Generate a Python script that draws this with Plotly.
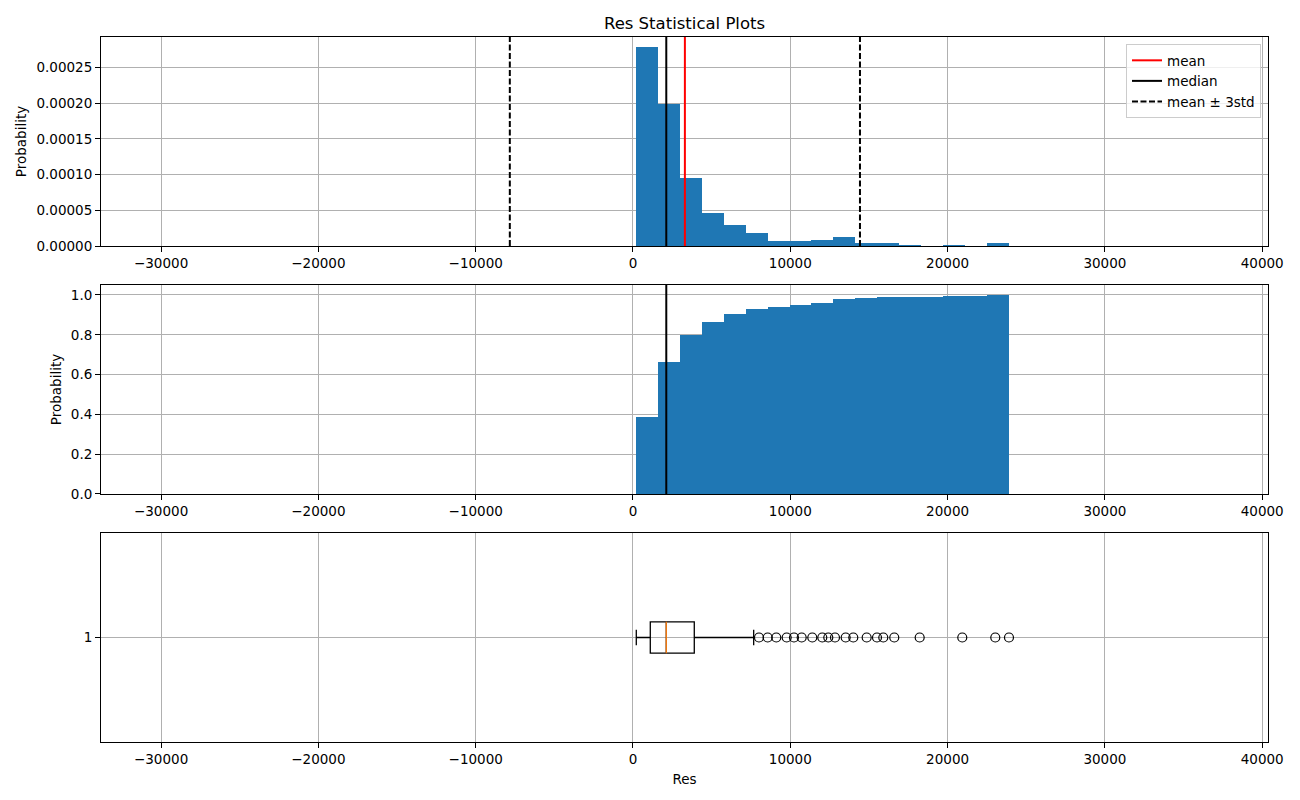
import numpy as np
import plotly.graph_objects as go
from plotly.subplots import make_subplots

# ---------------- data ----------------
bin_start = 200.0
bin_width = 1393.0
bin_counts = [197, 141, 67, 33, 21, 13, 5, 5, 6, 9, 3, 3, 1, 0, 1, 0, 3]

res_mean = 3300.0
res_std = 3710.0
res_median = 2117.0

box_q1 = 1100.0
box_q3 = 3897.0
box_low = 210.0
box_high = 7673.0
outliers = [8010, 8563, 9110, 9771, 10235, 10725, 11399, 12034, 12416, 12842,
            13522, 14005, 14857, 15512, 15912, 16611, 18226, 20934, 23032, 23903]

x_ticks = [-30000, -20000, -10000, 0, 10000, 20000, 30000, 40000]
x_range = [-33820, 40370]
top_ticks = [0.0, 0.00005, 0.0001, 0.00015, 0.0002, 0.00025]
mid_ticks = [0.0, 0.2, 0.4, 0.6, 0.8, 1.0]

# ---------------- derived ----------------
counts = np.array(bin_counts, dtype=float)
n_total = counts.sum()
edges = bin_start + bin_width * np.arange(len(counts) + 1)
centers = (edges[:-1] + edges[1:]) / 2
density = counts / (n_total * bin_width)
cumulative = np.cumsum(counts) / n_total
top_max = density.max() * 1.05
mid_max = cumulative.max() * 1.05

BLUE = "#1f77b4"
GRID = "#b0b0b0"
FONT = "DejaVu Sans"
FS = 13.5

fig = make_subplots(rows=3, cols=1)

# Top histogram (density)
fig.add_trace(go.Bar(x=centers, y=density, width=bin_width, marker=dict(color=BLUE, line=dict(width=0)),
                     showlegend=False, hoverinfo="skip"), row=1, col=1)
fig.add_trace(go.Scatter(x=[res_mean, res_mean], y=[0, top_max], mode="lines",
                         line=dict(color="red", width=2), name="mean"), row=1, col=1)
fig.add_trace(go.Scatter(x=[res_median, res_median], y=[0, top_max], mode="lines",
                         line=dict(color="black", width=2), name="median"), row=1, col=1)
lo = res_mean - 3 * res_std
hi = res_mean + 3 * res_std
fig.add_trace(go.Scatter(x=[lo, lo, None, hi, hi], y=[0, top_max, None, 0, top_max], mode="lines",
                         line=dict(color="black", width=2, dash="6px,2.5px"), name="mean \u00b1 3std"),
              row=1, col=1)

# Middle cumulative histogram
fig.add_trace(go.Bar(x=centers, y=cumulative, width=bin_width, marker=dict(color=BLUE, line=dict(width=0)),
                     showlegend=False, hoverinfo="skip"), row=2, col=1)
fig.add_trace(go.Scatter(x=[res_median, res_median], y=[0, mid_max], mode="lines",
                         line=dict(color="black", width=2), showlegend=False), row=2, col=1)

# Bottom box plot
fig.add_trace(go.Box(y=[1], q1=[box_q1], median=[res_median], q3=[box_q3],
                     lowerfence=[box_low], upperfence=[box_high], orientation="h",
                     width=0.15, whiskerwidth=0.5, boxpoints=False,
                     line=dict(color="black", width=1.3), fillcolor="rgba(255,255,255,0)",
                     showlegend=False, hoverinfo="skip"), row=3, col=1)
fig.add_trace(go.Scatter(x=[res_median, res_median], y=[0.925, 1.075], mode="lines",
                         line=dict(color="#ff7f0e", width=1.3), showlegend=False), row=3, col=1)
fig.add_trace(go.Scatter(x=outliers, y=[1] * len(outliers), mode="markers",
                         marker=dict(symbol="circle-open", size=9, color="black", line=dict(width=1.2)),
                         showlegend=False), row=3, col=1)

axis_common = dict(showline=True, mirror=True, linecolor="black", linewidth=1,
                   ticks="outside", ticklen=5, tickcolor="black", showgrid=True,
                   gridcolor=GRID, gridwidth=0.8, zeroline=False,
                   tickfont=dict(family=FONT, size=FS, color="black"))

domains = [[0.7035, 1.0], [0.3518, 0.6482], [0.0, 0.2965]]
for i in range(3):
    xa = "xaxis" if i == 0 else f"xaxis{i+1}"
    ya = "yaxis" if i == 0 else f"yaxis{i+1}"
    fig.layout[xa].update(range=x_range, tickvals=x_ticks, tickformat="d", domain=[0, 1], **axis_common)
    fig.layout[ya].update(domain=domains[i], **axis_common)

fig.layout.yaxis.update(range=[0, top_max], tickvals=top_ticks, tickformat=".5f",
                        title=dict(text="Probability", font=dict(family=FONT, size=FS, color="black"), standoff=6))
fig.layout.yaxis2.update(range=[0, mid_max], tickvals=mid_ticks, tickformat=".1f",
                         title=dict(text="Probability", font=dict(family=FONT, size=FS, color="black"), standoff=6))
fig.layout.yaxis3.update(range=[0.5, 1.5], tickvals=[1], ticktext=["1"])
fig.layout.xaxis3.update(title=dict(text="Res", font=dict(family=FONT, size=FS, color="black"), standoff=8))

fig.update_layout(
    width=1300, height=800,
    margin=dict(l=101, r=32, t=37, b=58, autoexpand=False),
    paper_bgcolor="white", plot_bgcolor="white",
    font=dict(family=FONT, size=FS, color="black"),
    title=dict(text="Res Statistical Plots", x=0.5, xref="paper", xanchor="center",
               y=1 - 23 / 800, yref="container", yanchor="middle",
               font=dict(family=FONT, size=16.5, color="black")),
    legend=dict(x=0.994, y=0.990, xref="paper", yref="paper", xanchor="right", yanchor="top",
                bgcolor="rgba(255,255,255,0.8)", bordercolor="#cccccc", borderwidth=1,
                font=dict(family=FONT, size=FS, color="black"), tracegroupgap=0,
                itemwidth=30),
    bargap=0, barmode="overlay",
)

fig.write_html("out.html")
